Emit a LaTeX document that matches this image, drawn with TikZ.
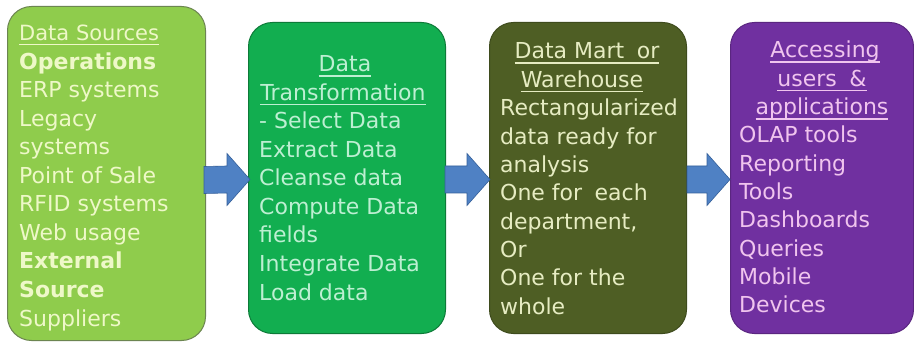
\documentclass[tikz,border=0pt]{standalone}
\usepackage{fontspec}
\setmainfont{DejaVu Sans}
\usetikzlibrary{calc}
\definecolor{gA}{HTML}{8FCC4C}
\definecolor{gAt}{HTML}{EEF8C8}
\definecolor{gB}{HTML}{12AE50}
\definecolor{gBt}{HTML}{BDEFD2}
\definecolor{olv}{HTML}{4E5E24}
\definecolor{olvt}{HTML}{E6ECC2}
\definecolor{pur}{HTML}{7030A0}
\definecolor{purt}{HTML}{F0C4EE}
\definecolor{arrf}{HTML}{4F81C4}
\definecolor{arrd}{HTML}{35609A}
\newcommand\myul[1]{\setbox0\hbox{#1}\rlap{\rule[-4.6pt]{\wd0}{1.4pt}}\box0}
\newcommand\blkarrow[2]{\filldraw[arr] ($(#1)+(0,-13.5)$) -- ($(#2)+(-23,-13.5)$) -- ($(#2)+(-23,-26)$) -- (#2) -- ($(#2)+(-23,26)$) -- ($(#2)+(-23,13.5)$) -- ($(#1)+(0,13.5)$) -- cycle;}
\begin{document}
\begin{tikzpicture}[x=1pt,y=-1pt,
  box/.style={rounded corners=24pt, line width=1pt, anchor=north west, inner sep=0pt},
  txt/.style={anchor=base west, inner sep=0pt, font=\fontsize{22}{26}\selectfont},
  hd/.style={anchor=base, inner sep=0pt, font=\fontsize{22}{26}\selectfont},
  arr/.style={fill=arrf, draw=arrd, line width=0.6pt, line join=miter}]
\useasboundingbox[fill=white] (0,0) rectangle (914,342);
% boxes
\node[box, fill=gA, draw=gA!50!black!80, minimum width=198pt, minimum height=334pt] (b1) at (7,6) {};
\node[box, fill=gB, draw=gB!70!black, minimum width=197pt, minimum height=311pt] (b2) at (248,22) {};
\node[box, fill=olv, draw=olv!80!black, minimum width=197pt, minimum height=311pt] (b3) at (489,22) {};
\node[box, fill=pur, draw=pur!80!black, minimum width=183pt, minimum height=311pt] (b4) at (730,22) {};
% arrows
\coordinate (a1s) at ($(b1.east)+(-2,6.5)$);
\coordinate (a1t) at ($(b2.west)+(2,1.5)$);
\coordinate (a2s) at ($(b2.east)+(-1,1.5)$);
\coordinate (a2t) at ($(b3.west)+(1,1.5)$);
\coordinate (a3s) at ($(b3.east)+(0,1.5)$);
\coordinate (a3t) at ($(b4.west)+(0,1.5)$);
\blkarrow{a1s}{a1t}
\blkarrow{a2s}{a2t}
\blkarrow{a3s}{a3t}
% box 1 text
\foreach \t [count=\i] in {{\fontsize{21}{26}\selectfont\myul{Data Sources}}, {\bfseries Operations}, ERP systems, Legacy, systems, Point of Sale, RFID systems, Web usage, {\bfseries External}, {\bfseries Source}, Suppliers}
  \node[txt, text=gAt] (s\i) at (19,{40.5+28.55*(\i-1)}) {\t};
% box 2 text
\node[hd, text=gBt] (t1) at (345,72) {\myul{Data}};
\node[hd, text=gBt] (t2) at (343,100.5) {\myul{Transformation}};
\foreach \t [count=\i] in {- Select Data, Extract Data, Cleanse data, Compute Data, fields, Integrate Data, Load data}
  \node[txt, text=gBt] (u\i) at (259,{129+28.5*(\i-1)}) {\t};
% box 3 text
\node[hd, text=olvt] (m1) at (587,59) {\myul{Data Mart\hspace{0.25em} or}};
\node[hd, text=olvt] (m2) at (582,87.5) {\myul{Warehouse}};
\foreach \t [count=\i] in {Rectangularized, data ready for, analysis, One for\hspace{0.25em} each, {department,}, Or, One for the, whole}
  \node[txt, text=olvt] (v\i) at (500,{116+28.3*(\i-1)}) {\t};
% box 4 text
\node[hd, text=purt] (p1) at (825,58) {\myul{Accessing}};
\node[hd, text=purt] (p2) at (822,86.5) {\myul{users\hspace{0.25em} \&}};
\node[hd, text=purt] (p3) at (822,115) {\myul{applications}};
\foreach \t [count=\i] in {OLAP tools, Reporting, Tools, Dashboards, Queries, Mobile, Devices}
  \node[txt, text=purt] (w\i) at (739,{143+28.3*(\i-1)}) {\t};
\end{tikzpicture}
\end{document}
